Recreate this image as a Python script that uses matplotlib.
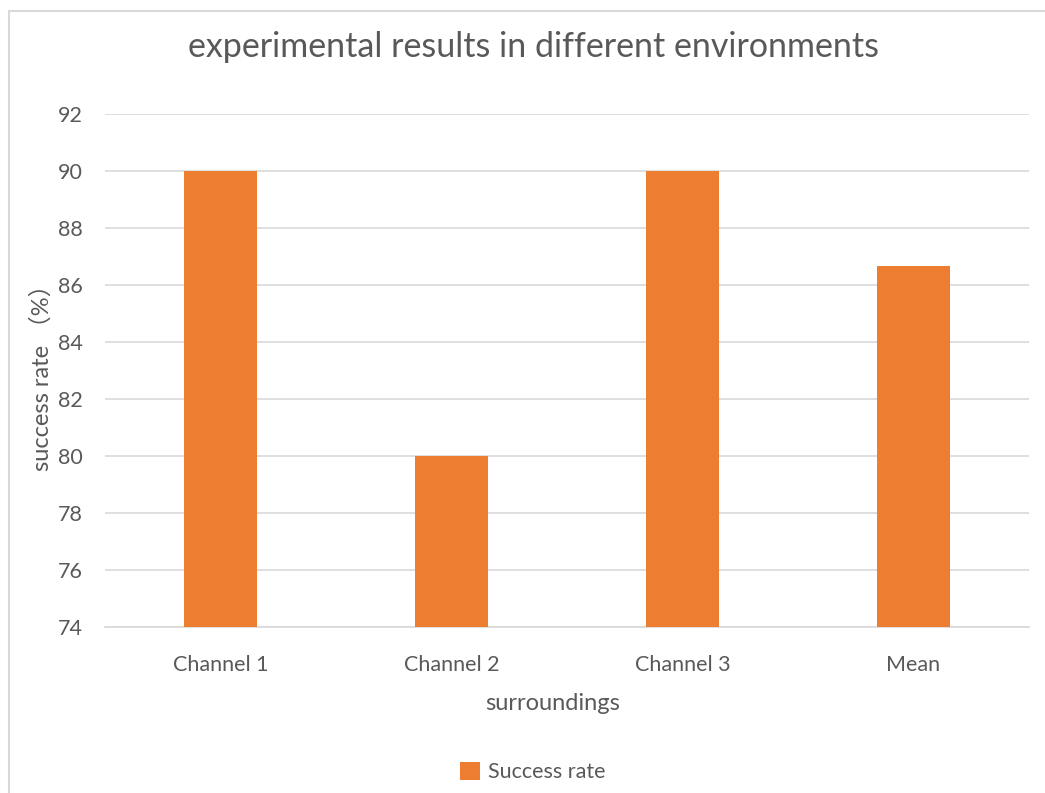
import matplotlib.pyplot as plt
from matplotlib.patches import Rectangle

categories = ["Channel 1", "Channel 2", "Channel 3", "Mean"]
success_rate = [90, 80, 90, 86.67]
y_ticks = [74, 76, 78, 80, 82, 84, 86, 88, 90, 92]

BAR_COLOR = "#ED7D31"
TEXT_COLOR = "#595959"
GRID_COLOR = "#D9D9D9"
W, H = 1045, 793

plt.rcParams["font.family"] = ["Lato", "Noto Sans CJK SC", "DejaVu Sans"]

fig = plt.figure(figsize=(W / 100, H / 100), dpi=100)
# light border round the chart area
fig.patches.append(Rectangle((9 / W, -0.1), 1.2, 1.1 - 11 / H,
                             transform=fig.transFigure, fill=False,
                             edgecolor="#D9D9D9", linewidth=1.5))

ax = fig.add_axes([105 / W, 1 - 627 / H, 924 / W, 513 / H])
x = range(len(categories))
ax.bar(x, success_rate, width=0.32, color=BAR_COLOR, label="Success rate", zorder=3)

ax.set_xlim(-0.5, len(categories) - 0.5)
ax.set_ylim(74, 92)
ax.set_yticks(y_ticks)
ax.set_xticks(list(x))
ax.set_xticklabels(categories)
ax.grid(axis="y", color=GRID_COLOR, linewidth=1.2, zorder=0)
for s in ["top", "right", "left"]:
    ax.spines[s].set_visible(False)
ax.spines["bottom"].set_color(GRID_COLOR)
ax.spines["bottom"].set_linewidth(1.2)
ax.tick_params(axis="both", length=0, colors=TEXT_COLOR, labelsize=15.5)
ax.tick_params(axis="y", pad=16)
ax.tick_params(axis="x", pad=20)

fig.text(533 / W, 1 - 47 / H, "experimental results in different environments",
         fontsize=24.5, color=TEXT_COLOR, ha="center", va="center")
fig.text(553 / W, 1 - 703 / H, "surroundings", fontsize=17, color=TEXT_COLOR,
         ha="center", va="center")
fig.text(42 / W, 1 - 372 / H, "success rate （%）", fontsize=17, color=TEXT_COLOR,
         ha="center", va="center", rotation=90)

fig.legend(loc="center", bbox_to_anchor=(533 / W, 1 - 772 / H), frameon=False,
           fontsize=15.5, labelcolor=TEXT_COLOR, handlelength=0.9, handleheight=0.9,
           handletextpad=0.4)

fig.savefig("out.png", dpi=100)
